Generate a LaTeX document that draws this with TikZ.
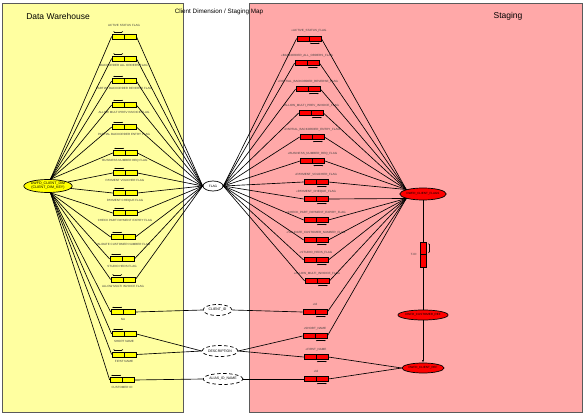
\documentclass[tikz,border=0pt]{standalone}
\usepackage{fontspec}
\setmainfont{Liberation Sans}
\usetikzlibrary{shapes.geometric,arrows.meta}
\definecolor{dwbg}{RGB}{255,255,160}
\definecolor{stbg}{RGB}{255,168,168}
\definecolor{framec}{RGB}{90,90,90}
\definecolor{ybox}{RGB}{255,255,0}
\definecolor{rbox}{RGB}{255,0,0}
\begin{document}
\begin{tikzpicture}[x=1pt,y=-1pt,
  tinytxt/.style={font=\fontsize{3}{3.5}\selectfont,inner sep=0pt,text=black!75},
  ycol/.style={draw,fill=ybox,line width=0.7pt,minimum width=24pt,minimum height=5pt,inner sep=0pt,
    path picture={\draw[line width=0.7pt] (path picture bounding box.north) -- (path picture bounding box.south);}},
  rcol/.style={ycol,fill=rbox},
  conn/.style={line width=0.65pt},
  dbl/.style={{Latex[length=1.2pt,width=1.2pt]}-{Latex[length=1.2pt,width=1.2pt]},line width=0.45pt},
  ell/.style={ellipse,draw,line width=0.7pt,inner sep=0pt},
  dell/.style={ell,fill=white,dash pattern=on 3.5pt off 2.5pt,font=\fontsize{3.5}{4}\selectfont}]
\useasboundingbox (0,0) rectangle (586,414);
\draw[framec,fill=dwbg,line width=0.9pt] (2,3) rectangle (183,412);
\draw[framec,fill=stbg,line width=0.9pt] (249,3) rectangle (582,412);
\node[font=\fontsize{8.5}{10}\selectfont] (dwt) at (58,16) {Data Warehouse};
\node[font=\fontsize{8.5}{10}\selectfont] (stt) at (508,16) {Staging};
\node[font=\fontsize{6.3}{7}\selectfont] (title) at (219,12) {Client Dimension / Staging Map};

% left warehouse columns
\foreach \i/\x/\y/\t in {
  1/124/36.5/{ACTIVE STATUS FLAG},
  2/124/58.5/{BACKORDER ALL ORDERS FLAG},
  3/124/81/{PARTIAL BACKORDER REVERSE FLAG},
  4/124/105/{ALLOW MULTI PREV INVOICE FLAG},
  5/124/127/{PARTIAL BACKORDER ENTRY FLAG},
  6/125/153/{BUSINESS NUMBER REQ FLAG},
  7/125/173/{PAYMENT VOUCHER FLAG},
  8/125/193/{PAYMENT CHEQUE FLAG},
  9/125/213/{CHECK PART PAYMENT EXPIRY FLAG},
  10/123/237/{VALIDATE CUSTOMER NUMBER FLAG},
  11/122/259/{STUDIO HEDS FLAG},
  12/123/279.5/{ALLOW MULTI INVOICE FLAG},
  13/123/312/{NA},
  14/124/334/{SHORT NAME},
  15/124/354.5/{FIRST NAME},
  16/122/380/{CUSTOMER ID}} {
  \node[ycol] (l\i) at (\x,\y) {};
  \draw[dbl] ([xshift=1.5pt,yshift=1.8pt]l\i.north west) -- ++(10,0);
  \ifnum\i=1
    \node[tinytxt] (lt\i) at ([yshift=8.5pt]l\i.north) {\t};
  \else
    \node[tinytxt] (lt\i) at ([yshift=-4.5pt]l\i.south) {\t};
  \fi
}

% right staging columns
\foreach \i/\x/\y/\t in {
  1/309/38.5/{<<ACTIVE\_STATUS\_FLAG},
  2/307/63/{<<BACKORDER\_ALL\_ORDERS\_FLAG},
  3/308/89/{<<PARTIAL\_BACKORDER\_REVERSE\_FLAG},
  4/311/113/{<<ALLOW\_MULTI\_PREV\_INVOICE\_FLAG},
  5/312/137/{<<PARTIAL\_BACKORDER\_ENTRY\_FLAG},
  6/312.5/161/{<<BUSINESS\_NUMBER\_REQ\_FLAG},
  7/316/182/{<<PAYMENT\_VOUCHER\_FLAG},
  8/316/199/{<<PAYMENT\_CHEQUE\_FLAG},
  9/316/220/{<<CHECK\_PART\_PAYMENT\_EXPIRY\_FLAG},
  10/316/240/{<<VALIDATE\_CUSTOMER\_NUMBER\_FLAG},
  11/316/260/{<<STUDIO\_HEDS\_FLAG},
  12/317/281/{<<ALLOW\_MULTI\_INVOICE\_FLAG},
  13/315/312/{<<Id},
  14/315/336/{<<SHORT\_NAME},
  15/316/357/{<<FIRST\_NAME},
  16/316/379/{<<Id}} {
  \node[rcol] (r\i) at (\x,\y) {};
  \draw[dbl] ([xshift=-1.5pt,yshift=-1.8pt]r\i.south east) -- ++(-10,0);
  \node[tinytxt] (rt\i) at ([yshift=4.5pt]r\i.north) {\t};
}

% entities
\node[ell,fill=ybox,minimum width=47pt,minimum height=13pt,align=center,
  font=\fontsize{3.6}{4}\selectfont] (dw) at (48,186) {DWFD\_CLIENT\_DIM\\(CLIENT\_DIM\_KEY)};
\node[ell,fill=white,minimum width=20pt,minimum height=10pt,font=\fontsize{3.2}{4}\selectfont] (flag) at (213,186) {FLAG};
\node[dell,minimum width=29pt,minimum height=11pt] (cid) at (217.5,310) {CLIENT\_ID};
\node[dell,minimum width=36pt,minimum height=11pt] (desc) at (220,351) {DESCRIPTION};
\node[dell,minimum width=40pt,minimum height=11pt] (alias) at (223,379) {ALIAS\_ID\_NAME};
\node[ell,fill=rbox,minimum width=40pt,minimum height=12pt,font=\fontsize{3}{4}\selectfont] (rs) at (423,194) {DWFD\_CLIENT\_FLAGS};
\node[ell,fill=rbox,minimum width=43pt,minimum height=10pt,font=\fontsize{3}{4}\selectfont] (rm) at (423,315) {DWFD\_CUSTOMER\_REF};
\node[ell,fill=rbox,minimum width=42pt,minimum height=10pt,font=\fontsize{3}{4}\selectfont] (rb) at (423,368) {DWFD\_CLIENT\_REF};
\node[draw,fill=rbox,line width=0.7pt,minimum width=6pt,minimum height=25pt,inner sep=0pt,
  path picture={\draw[line width=0.7pt] (path picture bounding box.west) -- (path picture bounding box.east);}] (vb) at (423,254.5) {};
\draw[dbl] ([xshift=2.5pt,yshift=-1.5pt]vb.north east) -- ++(0,10);
\node[tinytxt,anchor=east] (vbt) at ([xshift=-3pt]vb.west) {T-ID};

% connectors
\foreach \i in {1,...,6} \draw[conn] (dw.70) -- (l\i.west);
\foreach \i in {7,8} \draw[conn] (dw) -- (l\i.west);
\foreach \i in {9,...,16} \draw[conn] (dw.-70) -- (l\i.west);
\foreach \i in {1,...,12} {
  \draw[conn] (l\i.east) -- (flag.west);
  \draw[conn] (flag.east) -- (r\i.west);
}
\draw[conn] (l13.east) -- (cid.west);
\draw[conn] (cid.east) -- (r13.west);
\draw[conn] (l14.east) -- (desc.west);
\draw[conn] (l15.east) -- (desc.west);
\draw[conn] (desc.east) -- (r14.west);
\draw[conn] (desc.east) -- (r15.west);
\draw[conn] (l16.east) -- (alias.west);
\draw[conn] (alias.east) -- (r16.west);
\foreach \i in {1,...,7} \draw[conn] (r\i.east) -- (rs.165);
\foreach \i in {8,...,14} \draw[conn] (r\i.east) -- (rs.195);
\foreach \i in {15,16} \draw[conn] (r\i.east) -- (rb.west);
\draw[conn] (rs.south) -- (vb.north);
\draw[conn] (vb.south) -- (rm.north);
\draw[conn,-{Latex[length=2.5pt,width=2pt]}] (rm.south) -- (rb.north);
\end{tikzpicture}
\end{document}
